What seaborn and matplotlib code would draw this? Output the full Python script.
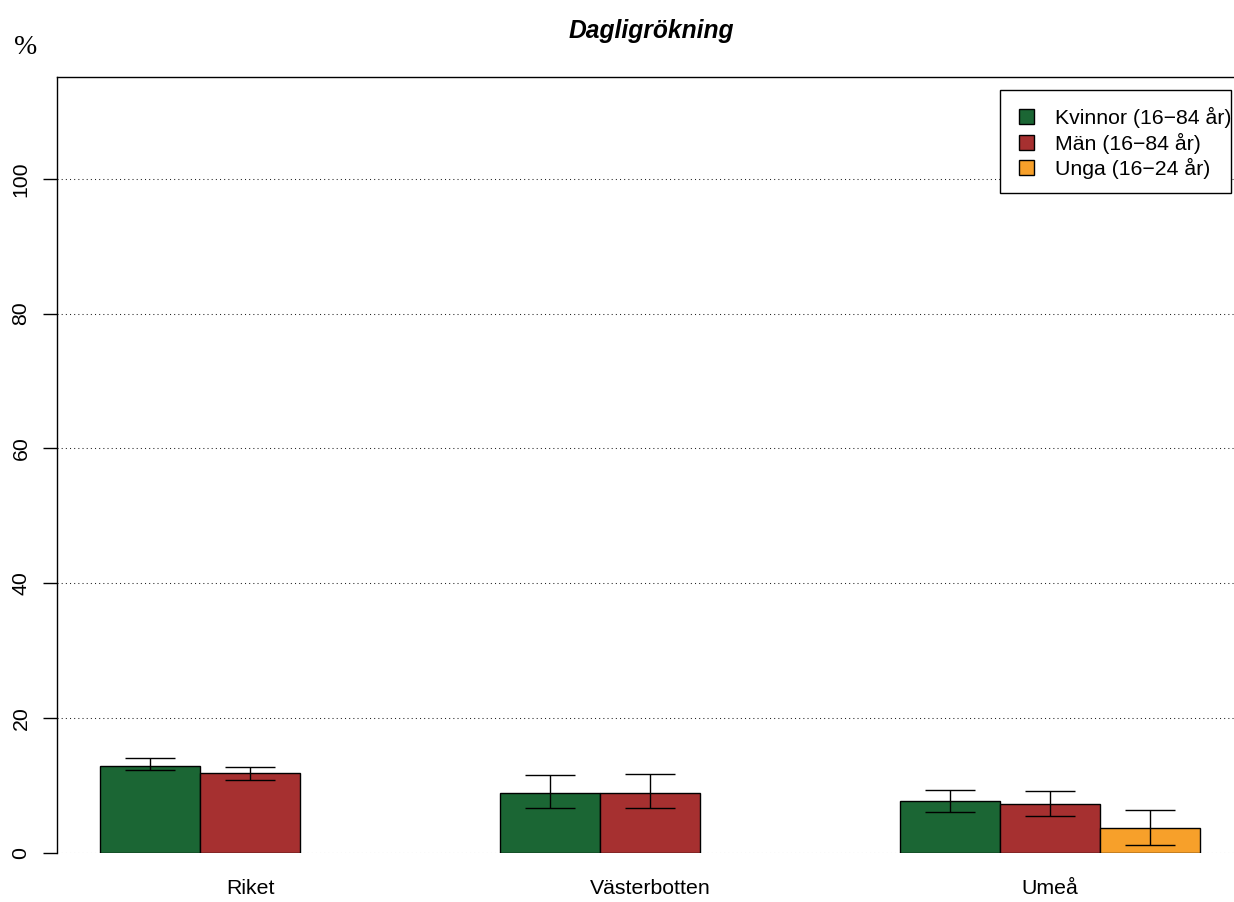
import matplotlib
matplotlib.use("Agg")
import matplotlib.pyplot as plt
import seaborn as sns
import pandas as pd
import numpy as np
from matplotlib.patches import Patch, Rectangle

regions = ["Riket", "Västerbotten", "Umeå"]
groups = ["Kvinnor (16−84 år)", "Män (16−84 år)", "Unga (16−24 år)"]
colors = ["#1B6634", "#A63030", "#F7A02A"]

kvinnor = [12.9, 8.9, 7.7]
kvinnor_lo = [12.2, 6.6, 6.0]
kvinnor_hi = [14.05, 11.5, 9.3]

man = [11.9, 8.9, 7.3]
man_lo = [10.8, 6.7, 5.4]
man_hi = [12.7, 11.7, 9.2]

unga = [np.nan, np.nan, 3.65]
unga_lo = [np.nan, np.nan, 1.1]
unga_hi = [np.nan, np.nan, 6.3]

title = "Dagligrökning"
yticks = [0, 20, 40, 60, 80, 100]

rows = []
for vals, lo, hi, g in [(kvinnor, kvinnor_lo, kvinnor_hi, groups[0]),
                        (man, man_lo, man_hi, groups[1]),
                        (unga, unga_lo, unga_hi, groups[2])]:
    for r, v, l, h in zip(regions, vals, lo, hi):
        rows.append({"region": r, "group": g, "value": v, "lo": l, "hi": h})
df = pd.DataFrame(rows)

sns.set_style("white")
plt.rcParams["font.family"] = ["Liberation Sans", "DejaVu Sans"]
plt.rcParams["text.color"] = "black"
plt.rcParams["xtick.color"] = "black"
plt.rcParams["ytick.color"] = "black"
plt.rcParams["axes.labelcolor"] = "black"

FS = 15.3
W, H = 1234, 902
fig = plt.figure(figsize=(W / 100, H / 100), dpi=100)
ax_left, ax_right, ax_top, ax_bottom = 57, 1245, 77, 852.7
ax = fig.add_axes([ax_left / W, 1 - ax_bottom / H, (ax_right - ax_left) / W, (ax_bottom - ax_top) / H])

palette = dict(zip(groups, colors))
sns.barplot(data=df.dropna(subset=["value"]), x="region", y="value", hue="group",
            order=regions, hue_order=groups, palette=palette, width=0.75,
            errorbar=None, edgecolor="black", linewidth=1.0, saturation=1,
            legend=False, ax=ax, zorder=3)

# error bars
n = len(groups)
w = 0.75 / n
for j, g in enumerate(groups):
    sub = df[df["group"] == g]
    for i, r in enumerate(regions):
        row = sub[sub["region"] == r].iloc[0]
        if pd.isna(row["value"]):
            continue
        x = i - 0.375 + w * (j + 0.5)
        ax.errorbar([x], [row["value"]],
                    yerr=[[row["value"] - row["lo"]], [row["hi"] - row["value"]]],
                    fmt="none", ecolor="black", elinewidth=1.0, capsize=18,
                    capthick=1.0, zorder=4)

ax.set_xlim(-0.4825, 2.4875)
ax.set_ylim(0, 115.1)
ax.set_yticks(yticks)
ax.set_yticklabels([str(t) for t in yticks], rotation=90, va="center", fontsize=FS, color="black")
ax.tick_params(axis="y", length=10, width=1, pad=9, color="black", left=True, labelcolor="black")
ax.tick_params(axis="x", length=0, pad=19, labelsize=FS, labelcolor="black")
ax.set_xlabel("")
ax.set_ylabel("")

for t in yticks:
    ax.axhline(t, color="#222222", lw=0.75, linestyle=(0, (1, 3)), zorder=1)

for s in ["left", "top", "right"]:
    ax.spines[s].set_visible(True)
    ax.spines[s].set_color("black")
    ax.spines[s].set_linewidth(1.0)
ax.spines["bottom"].set_visible(False)

ax.set_title(title, fontsize=17.7, fontweight="bold", fontstyle="italic", pad=28, color="black")

fig.text(26 / W, 1 - 48 / H, "%", fontsize=20, family=["Liberation Serif", "DejaVu Serif"],
         ha="center", va="center", color="black")

# legend frame (drawn in the axes, below the legend)
ax.add_patch(Rectangle((1000 / W, 1 - 193 / H), 231 / W, 103 / H, transform=fig.transFigure,
                       facecolor="white", edgecolor="black", linewidth=1.0, zorder=5,
                       clip_on=False))

handles = [Patch(facecolor=c, edgecolor="black", linewidth=1.0, label=g) for g, c in zip(groups, colors)]
leg = ax.legend(handles=handles, loc="upper left", bbox_to_anchor=(1019 / W, 1 - 107 / H),
                bbox_transform=fig.transFigure, fontsize=FS, frameon=False,
                borderpad=0, handlelength=0.7, handleheight=0.7, handletextpad=1.0,
                labelspacing=0.21, borderaxespad=0)
leg.set_zorder(7)
for txt in leg.get_texts():
    txt.set_color("black")

fig.savefig("out.png", dpi=100)
